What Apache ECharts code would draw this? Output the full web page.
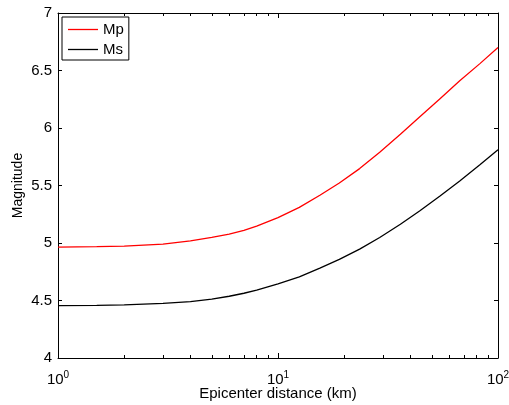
<!DOCTYPE html>
<html>
<head>
<meta charset="utf-8">
<script src="https://cdn.jsdelivr.net/npm/echarts@6/dist/echarts.min.js"></script>
<style>
  html, body { margin: 0; padding: 0; background: #fff; }
  #chart { width: 509px; height: 405px; }
</style>
</head>
<body>
<div id="chart"></div>
<script>
// Epicenter distances (km) and the corresponding magnitudes
const distanceKm = [1, 1.5, 2, 3, 4, 5, 6, 7, 8, 10, 12.5, 15.5, 19, 23.5, 29, 36, 44, 54.5, 67, 83, 100];
const mpValues = [4.965, 4.968, 4.972, 4.990, 5.018, 5.048, 5.078, 5.110, 5.146, 5.220, 5.310, 5.415, 5.522, 5.647, 5.790, 5.945, 6.095, 6.255, 6.410, 6.562, 6.700];
const msValues = [4.455, 4.458, 4.462, 4.475, 4.490, 4.512, 4.537, 4.563, 4.590, 4.645, 4.705, 4.782, 4.857, 4.947, 5.048, 5.163, 5.278, 5.408, 5.540, 5.682, 5.810];

// Tick positions on the logarithmic distance axis
const decadeTicks = [1, 10, 100];
const minorTicks = [2, 3, 4, 5, 6, 7, 8, 9, 20, 30, 40, 50, 60, 70, 80, 90];

const FONT = '"Liberation Sans", Arial, sans-serif';
const chart = echarts.init(document.getElementById('chart'), null, { renderer: 'canvas' });

function pairs(xs, ys) { return xs.map((x, i) => [x, ys[i]]); }

const lineStyleAxis = { color: '#000', width: 1 };

function logAxis(position, tickValues, tickLen, withLine, withLabels) {
  const ax = {
    type: 'log', logBase: 10, min: 1, max: 100, position: position,
    axisLine: { show: withLine, lineStyle: lineStyleAxis },
    axisTick: { show: true, inside: true, length: tickLen, customValues: tickValues, lineStyle: lineStyleAxis },
    axisLabel: { show: false },
    splitLine: { show: false },
    minorTick: { show: false },
    minorSplitLine: { show: false }
  };
  if (withLabels) {
    ax.axisLabel = {
      show: true,
      customValues: decadeTicks,
      margin: 12,
      color: '#000',
      formatter: v => '{b|10}{s|' + Math.round(Math.log10(v)) + '}',
      rich: {
        b: { fontSize: 15, fontFamily: FONT, color: '#000' },
        s: { fontSize: 10, fontFamily: FONT, color: '#000', padding: [0, 0, 9, 0] }
      }
    };
    ax.name = 'Epicenter distance (km)';
    ax.nameLocation = 'middle';
    ax.nameGap = 28;
    ax.nameMoveOverlap = false;
    ax.nameTextStyle = { fontSize: 15, fontFamily: FONT, color: '#000' };
  }
  return ax;
}

function magAxis(position, withLabels) {
  const ax = {
    type: 'value', min: 4, max: 7, interval: 0.5, position: position,
    axisLine: { show: true, lineStyle: lineStyleAxis },
    axisTick: { show: true, inside: true, length: 4, lineStyle: lineStyleAxis },
    axisLabel: { show: false },
    splitLine: { show: false }
  };
  if (withLabels) {
    ax.axisLabel = { show: true, margin: 6, fontSize: 15, fontFamily: FONT, color: '#000' };
    ax.name = 'Magnitude';
    ax.nameLocation = 'middle';
    ax.nameGap = 33;
    ax.nameMoveOverlap = false;
    ax.nameTextStyle = { fontSize: 14, fontFamily: FONT, color: '#000' };
  }
  return ax;
}

chart.setOption({
  animation: false,
  backgroundColor: '#fff',
  grid: { left: 58, right: 11, top: 13, bottom: 47, containLabel: false, outerBoundsMode: 'none' },
  legend: {
    orient: 'vertical',
    left: 62, top: 17,
    padding: [5, 5, 3, 6],
    icon: 'rect',
    itemWidth: 30, itemHeight: 1.3, itemGap: 5,
    backgroundColor: '#fff',
    borderColor: '#000', borderWidth: 1,
    textStyle: { fontSize: 15, fontFamily: FONT, color: '#000' },
    data: ['Mp', 'Ms']
  },
  xAxis: [
    logAxis('bottom', decadeTicks, 5, true, true),
    logAxis('bottom', minorTicks, 3, false, false),
    logAxis('top', decadeTicks, 5, true, false),
    logAxis('top', minorTicks, 3, false, false)
  ],
  yAxis: [
    magAxis('left', true),
    magAxis('right', false)
  ],
  series: [
    {
      name: 'Mp', type: 'line', xAxisIndex: 0, yAxisIndex: 0,
      data: pairs(distanceKm, mpValues),
      smooth: false,
      symbol: 'none', showSymbol: false,
      lineStyle: { color: '#ff0000', width: 1.3 },
      itemStyle: { color: '#ff0000' }
    },
    {
      name: 'Ms', type: 'line', xAxisIndex: 0, yAxisIndex: 0,
      data: pairs(distanceKm, msValues),
      smooth: false,
      symbol: 'none', showSymbol: false,
      lineStyle: { color: '#000000', width: 1.3 },
      itemStyle: { color: '#000000' }
    }
  ]
});
</script>
</body>
</html>
